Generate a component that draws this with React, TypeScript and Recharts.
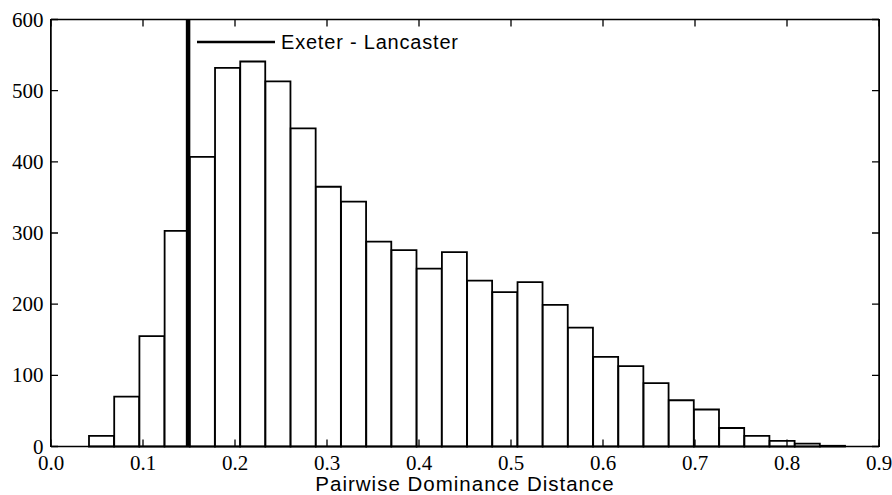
import React from 'react';
import { ComposedChart, Bar, XAxis, YAxis, ReferenceLine, Legend, Label } from 'recharts';

// histogram bins (centre of each bin) and counts
const binCenters = [
  0.055, 0.0824, 0.1098, 0.1372, 0.1646, 0.192, 0.2194, 0.2468, 0.2742, 0.3016,
  0.329, 0.3564, 0.3838, 0.4112, 0.4386, 0.466, 0.4934, 0.5208, 0.5482, 0.5756,
  0.603, 0.6304, 0.6578, 0.6852, 0.7126, 0.74, 0.7674, 0.7948, 0.8222, 0.8496,
];
const counts = [
  15, 70, 155, 303, 407, 532, 541, 513, 447, 365,
  344, 288, 276, 250, 273, 233, 217, 231, 199, 167,
  126, 113, 89, 65, 52, 26, 15, 8, 4, 1,
];
const xTicks = [0, 0.1, 0.2, 0.3, 0.4, 0.5, 0.6, 0.7, 0.8, 0.9];
const yTicks = [0, 100, 200, 300, 400, 500, 600];
const markerX = 0.149;
const markerName = 'Exeter - Lancaster';
const xLabel = 'Pairwise Dominance Distance';

const data = binCenters.map((x, i) => ({ x, count: counts[i] }));

const W = 892;
const H = 495;
const Y_AXIS_W = 51;
const X_AXIS_H = 48.5;
const MARGIN = { top: 19.5, right: 13, bottom: 0, left: 0 };
const PLOT_LEFT = MARGIN.left + Y_AXIS_W;
const PLOT_TOP = MARGIN.top;
const PLOT_RIGHT = W - MARGIN.right;
const PLOT_BOTTOM = H - MARGIN.bottom - X_AXIS_H;
const FRAME = 1.5;

const serif = '"Liberation Serif", "Times New Roman", serif';
const sans = '"Liberation Sans", Arial, Helvetica, sans-serif';
const TICK = 7;

// matplotlib-style: ticks point inward on all four sides
const BottomTick = (props: any) => {
  const { x, y, payload } = props;
  return (
    <g>
      <path d={`M${x},${y}V${y - TICK}M${x},${PLOT_TOP}V${PLOT_TOP + TICK}`} stroke="#000" strokeWidth={1.3} fill="none" />
      <text x={x} y={y + 23} textAnchor="middle" fontFamily={serif} fontSize={21} fill="#000">
        {payload.value.toFixed(1)}
      </text>
    </g>
  );
};

const LeftTick = (props: any) => {
  const { x, y, payload } = props;
  return (
    <g>
      <path d={`M${x},${y}H${x + TICK}M${PLOT_RIGHT},${y}H${PLOT_RIGHT - TICK}`} stroke="#000" strokeWidth={1.3} fill="none" />
      <text x={x - 7.5} y={y + 7} textAnchor="end" fontFamily={serif} fontSize={21} fill="#000">
        {payload.value}
      </text>
    </g>
  );
};

const LegendBox = () => (
  <div style={{ display: 'flex', alignItems: 'center' }}>
    <svg width={80} height={6} style={{ display: 'block' }}>
      <line x1={1} x2={79} y1={3} y2={3} stroke="#000" strokeWidth={2.5} />
    </svg>
    <span
      style={{
        fontFamily: sans,
        fontSize: 20,
        letterSpacing: 0.8,
        color: '#000',
        marginLeft: 5,
        lineHeight: '24px',
        whiteSpace: 'nowrap',
      }}
    >
      {markerName}
    </span>
  </div>
);

export default function App() {
  return (
    <div style={{ position: 'absolute', left: 0, top: 0, width: W, height: H, background: '#fff' }}>
      <ComposedChart
        width={W}
        height={H}
        data={data}
        margin={MARGIN}
        barCategoryGap={0}
        barGap={0}
      >
        <XAxis
          dataKey="x"
          type="number"
          domain={[0, 0.9]}
          ticks={xTicks}
          interval={0}
          height={X_AXIS_H}
          tickSize={0}
          tickMargin={0}
          tickLine={false}
          axisLine={{ stroke: '#000', strokeWidth: FRAME }}
          tick={<BottomTick />}
          allowDataOverflow
        >
          <Label
            value={xLabel}
            position="insideBottom"
            offset={4}
            style={{ fontFamily: sans, fontSize: 20.5, letterSpacing: 1, fill: '#000' }}
          />
        </XAxis>
        <YAxis
          domain={[0, 600]}
          ticks={yTicks}
          interval={0}
          width={Y_AXIS_W}
          tickSize={0}
          tickMargin={0}
          tickLine={false}
          axisLine={{ stroke: '#000', strokeWidth: FRAME }}
          tick={<LeftTick />}
        />
        <Bar
          dataKey="count"
          fill="#fff"
          stroke="#000"
          strokeWidth={1.8}
          isAnimationActive={false}
        />
        <ReferenceLine x={markerX} stroke="#000" strokeWidth={4.5} />
        <ReferenceLine y={600} stroke="#000" strokeWidth={FRAME} ifOverflow="visible" />
        <ReferenceLine x={0.9} stroke="#000" strokeWidth={FRAME} ifOverflow="visible" />
        <Legend
          layout="horizontal"
          verticalAlign="middle"
          align="center"
          content={<LegendBox />}
          wrapperStyle={{ position: 'absolute', left: 196, top: 30, width: 'auto' }}
        />
      </ComposedChart>
      {/* axes box drawn over the plot so every side shows */}
      <div
        style={{
          position: 'absolute',
          left: PLOT_LEFT - FRAME / 2,
          top: PLOT_TOP - FRAME / 2,
          width: PLOT_RIGHT - PLOT_LEFT + FRAME,
          height: PLOT_BOTTOM - PLOT_TOP + FRAME,
          border: `${FRAME}px solid #000`,
          boxSizing: 'border-box',
          pointerEvents: 'none',
        }}
      />
    </div>
  );
}
